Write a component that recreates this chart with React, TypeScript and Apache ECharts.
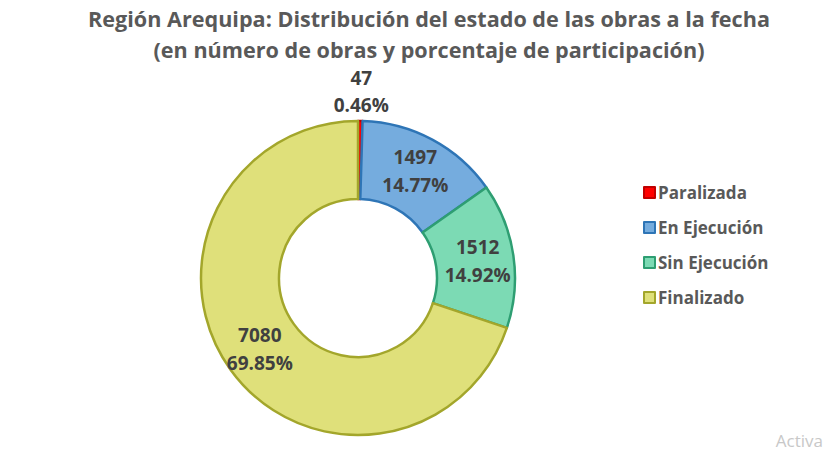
import React, { useEffect, useRef } from "react";
import * as echarts from "echarts";

const categories = ["Paralizada", "En Ejecución", "Sin Ejecución", "Finalizado"];
const counts = [47, 1497, 1512, 7080];
const percents = ["0.46%", "14.77%", "14.92%", "69.85%"];
const fills = ["#FF0000", "#75ACDE", "#7CDAB4", "#DFE07A"];
const borders = ["#C00000", "#2E75B6", "#2E9E72", "#A3A62B"];

const FONT = "'Open Sans', 'Noto Sans', sans-serif";

export default function App() {
  const ref = useRef<HTMLDivElement>(null);
  useEffect(() => {
    if (!ref.current) return;
    const chart = echarts.init(ref.current, undefined, { renderer: "svg" });
    const data = categories.map((name, i) => {
      const item: any = {
        name,
        value: counts[i],
        itemStyle: { color: fills[i], borderColor: borders[i], borderWidth: 2.5 },
      };
      if (i === 0) {
        item.label = { position: "outside", lineHeight: 27 };
        item.labelLine = { show: false, length: 0, length2: 0 };
      }
      return item;
    });
    chart.setOption({
      animation: false,
      backgroundColor: "#FFFFFF",
      title: {
        text: "Región Arequipa: Distribución del estado de las obras a la fecha\n(en número de obras y porcentaje de participación)",
        left: 429,
        textAlign: "center",
        top: 3,
        padding: 0,
        textStyle: {
          fontFamily: FONT,
          fontSize: 21.6,
          fontWeight: "bold",
          color: "#595959",
          lineHeight: 31,
        },
      },
      legend: {
        orient: "vertical",
        left: 638,
        top: 179,
        itemWidth: 11,
        itemHeight: 11,
        itemGap: 18,
        icon: "rect",
        textStyle: {
          fontFamily: FONT,
          fontSize: 17,
          fontWeight: "bold",
          color: "#595959",
          padding: [0, 0, 0, -2],
        },
        data: categories,
      },
      graphic: [
        {
          type: "text",
          right: 0,
          top: 432,
          style: { text: "Activa", fill: "#C8C8C8", font: "17px 'Open Sans', sans-serif" },
        },
      ],
      series: [
        {
          type: "pie",
          center: [358, 278],
          radius: [79, 157],
          startAngle: 90,
          clockwise: true,
          avoidLabelOverlap: false,
          label: {
            show: true,
            position: "inside",
            formatter: (p: any) => `${counts[p.dataIndex]}\n${percents[p.dataIndex]}`,
            fontFamily: FONT,
            fontSize: 19,
            fontWeight: "bold",
            color: "#404040",
            lineHeight: 28,
          },
          labelLine: { show: false },
          labelLayout: (params: any) => {
            if (params.dataIndex !== 0) return {};
            const r = params.rect;
            return {
              x: r.x + r.width / 2 + 1,
              y: r.y - 28,
              align: "center",
              verticalAlign: "middle",
            };
          },
          emphasis: { disabled: true },
          data,
        },
      ],
    });
    return () => chart.dispose();
  }, []);
  return (
    <div
      ref={ref}
      style={{ position: "fixed", left: 0, top: 0, width: 823, height: 455 }}
    />
  );
}
